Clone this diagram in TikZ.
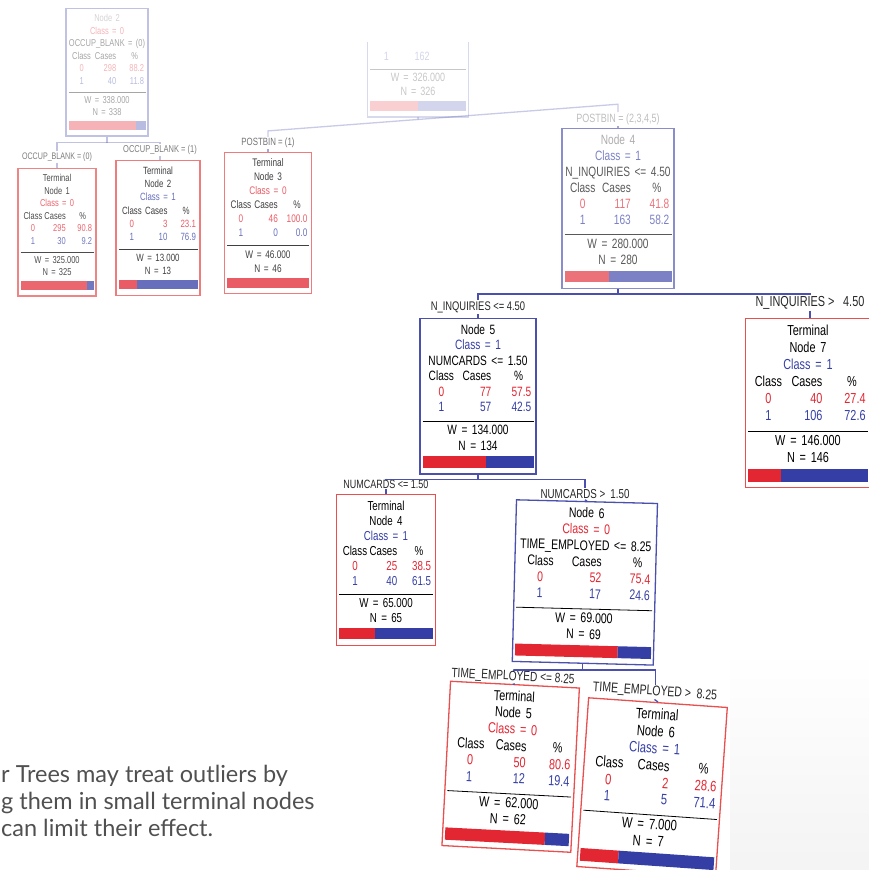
\documentclass[tikz,border=0pt]{standalone}
\usepackage{fontspec}
\usetikzlibrary{calc}
\newfontfamily\treefont[FakeStretch=0.75]{Liberation Sans}
\newfontfamily\notefont{Lato}
\definecolor{clsred}{RGB}{226,38,50}
\definecolor{clsblue}{RGB}{52,62,165}
\definecolor{redline}{RGB}{232,80,80}
\definecolor{blueline}{RGB}{75,80,175}
\definecolor{notegray}{RGB}{80,80,80}
% one row of the class table
\newcommand{\tabrow}[3]{\makebox[0.3\linewidth][c]{#1}\makebox[0.3\linewidth][r]{#2}\makebox[0.36\linewidth][r]{#3}}
\newcommand{\classbar}[1]{%
 {\color{clsred}\rule{#1\linewidth}{0.85em}}%
 {\color{clsblue}\rule{\dimexpr\linewidth-#1\linewidth\relax}{0.85em}}}
\newcommand{\boxtext}[8]{%
 #1\\
 \tabrow{Class}{Cases}{\%\hspace{0.6em}}\\
 \color{clsred}\tabrow{0}{#2}{#3}\\
 \color{clsblue}\tabrow{1}{#4}{#5}\\[-0.4em]
 \color{black}\rule{\linewidth}{0.8pt}\\[-0.2em]
 W = #6\\ N = #7\\[0.15em]
 \classbar{#8}}
\begin{document}
\begin{tikzpicture}[x=1pt,y=-1pt,
  treebox/.style={draw,line width=1.3pt,inner xsep=2.5pt,inner ysep=6pt,align=center,anchor=north},
  splitbox/.style={treebox,draw=blueline},
  termbox/.style={treebox,draw=redline},
  fs/.style 2 args={font=\treefont\fontsize{#1}{#2}\selectfont},
  cutlabel/.style={font=\treefont\fontsize{#1}{#1}\selectfont,inner sep=1pt,text=black!85},
  link/.style={draw=blueline,line width=1.3pt},
  note/.style={font=\notefont\fontsize{23.5}{27}\selectfont,text=notegray,inner sep=0pt,anchor=base west}]
\useasboundingbox (0,0) rectangle (869,870);
\shade[top color=white,bottom color=gray!9] (730,650) rectangle (869,870);
% faded upper part of the tree
\node[splitbox,fs={10}{12.5},text width=77pt,opacity=0.35] (n2) at (107,8)
 {\boxtext{\textcolor{gray}{Node 2}\\ \textcolor{clsred}{Class = 0}\\ \mbox{OCCUP\_BLANK = (0)}}{298}{88.2}{40}{11.8}{338.000}{338}{0.882}};
\node[fs={12}{14},text width=96pt,align=center,inner xsep=2.5pt,inner ysep=6pt,anchor=south,opacity=0.22] (n3) at (418,117)
 {\color{clsblue}\tabrow{1}{162}{}\\[-0.4em] \color{black}\rule{\linewidth}{0.8pt}\\[-0.2em] W = 326.000\\ N = 326\\[0.15em] \classbar{0.5}};
\draw[link,opacity=0.22] ($(n3.north west)+(0,-4)$) -- (n3.south west) -- (n3.south east) -- ($(n3.north east)+(0,-4)$);
\node[termbox,fs={10}{12.5},text width=73pt,opacity=0.7] (t1) at (57,168)
 {\boxtext{Terminal\\ Node 1\\ \textcolor{clsred}{Class = 0}}{295}{90.8}{30}{9.2}{325.000}{325}{0.908}};
\node[termbox,fs={10.5}{13.3},text width=79pt,opacity=0.75] (t2) at (158,160)
 {\boxtext{Terminal\\ Node 2\\ \textcolor{clsblue}{Class = 1}}{3}{23.1}{10}{76.9}{13.000}{13}{0.231}};
\node[termbox,fs={11}{14},text width=82pt,opacity=0.75] (t3) at (268,152)
 {\boxtext{Terminal\\ Node 3\\ \textcolor{clsred}{Class = 0}}{46}{100.0}{0}{0.0}{46.000}{46}{1.0}};
\node[splitbox,fs={13.5}{16},text width=107pt,opacity=0.65] (n4) at (618,128)
 {\boxtext{\textcolor{gray}{Node 4}\\ \textcolor{clsblue}{Class = 1}\\ \mbox{N\_INQUIRIES <= 4.50}}{117}{41.8}{163}{58.2}{280.000}{280}{0.418}};
% lower part
\node[splitbox,fs={13.5}{15.5},text width=111pt] (n5) at (478,318)
 {\boxtext{Node 5\\ \textcolor{clsblue}{Class = 1}\\ \mbox{NUMCARDS <= 1.50}}{77}{57.5}{57}{42.5}{134.000}{134}{0.575}};
\node[termbox,fs={14.5}{17},text width=120pt] (t7) at (808,318)
 {\boxtext{Terminal\\ Node 7\\ \textcolor{clsblue}{Class = 1}}{40}{27.4}{106}{72.6}{146.000}{146}{0.274}};
\node[termbox,fs={13}{15},text width=94pt] (t4) at (386,494)
 {\boxtext{Terminal\\ Node 4\\ \textcolor{clsblue}{Class = 1}}{25}{38.5}{40}{61.5}{65.000}{65}{0.385}};
\node[splitbox,fs={14}{16.2},text width=136pt,rotate=-1.5] (n6) at (587,501)
 {\boxtext{Node 6\\ \textcolor{clsred}{Class = 0}\\ \mbox{TIME\_EMPLOYED <= 8.25}}{52}{75.4}{17}{24.6}{69.000}{69}{0.754}};
\node[termbox,fs={14.5}{16.5},text width=124pt,rotate=-3] (t5) at (515,684)
 {\boxtext{Terminal\\ Node 5\\ \textcolor{clsred}{Class = 0}}{50}{80.6}{12}{19.4}{62.000}{62}{0.806}};
\node[termbox,fs={15}{17},text width=134pt,rotate=-4] (t6) at (658,702)
 {\boxtext{Terminal\\ Node 6\\ \textcolor{clsblue}{Class = 1}}{2}{28.6}{5}{71.4}{7.000}{7}{0.286}};
% split labels
\node[cutlabel=9.5,opacity=0.6] (ob0) at (57,157) {OCCUP\_BLANK = (0)};
\node[cutlabel=10,opacity=0.6] (ob1) at (160,150) {OCCUP\_BLANK = (1)};
\node[cutlabel=10.5,opacity=0.65] (p1) at (268,143) {POSTBIN = (1)};
\node[cutlabel=12,opacity=0.3] (p2) at (618,119) {POSTBIN = (2,3,4,5)};
\node[cutlabel=12.5] (ni0) at (478,307) {N\_INQUIRIES <= 4.50};
\node[cutlabel=14.5] (ni1) at (810,303) {N\_INQUIRIES >\hspace{0.6em}4.50};
\node[cutlabel=12] (nc0) at (386,484) {NUMCARDS <= 1.50};
\node[cutlabel=13] (nc1) at (585,494) {NUMCARDS >\hspace{0.4em}1.50};
\node[cutlabel=13.5,rotate=-3] (te0) at (513,677) {TIME\_EMPLOYED <= 8.25};
\node[cutlabel=14,rotate=-4] (te1) at (655,692) {TIME\_EMPLOYED >\hspace{0.4em}8.25};
% connectors
\draw[link,opacity=0.35] (n2.south) -- ++(0,6) coordinate (b2);
\draw[link,opacity=0.35] (ob0.north) |- (b2) -| (ob1.north);
\draw[link,opacity=0.35] (ob0.south) -- (ob0.south |- t1.north);
\draw[link,opacity=0.35] (ob1.south) -- (ob1.south |- t2.north);
\draw[link,opacity=0.3] (p1.north) -- ++(0,-6) coordinate (pb1)
 -- ($(p2.north)+(0,-8)$) coordinate (pb2) -- (p2.north);
\draw[link,opacity=0.3] (n3.south) -- ($(pb1)!(n3.south)!(pb2)$);
\draw[link,opacity=0.5] (p1.south) -- (p1.south |- t3.north);
\draw[link,opacity=0.5] (p2.south) -- (n4.north);
\draw[link] (n4.south) -- ++(0,5) coordinate (b4);
\draw[link] (ni0.north) |- (b4) -| (ni1.north);
\draw[link] (ni0.south) -- (ni0.south |- n5.north);
\draw[link] (ni1.south) -- (ni1.south |- t7.north);
\draw[link] (n5.south) -- ++(0,5) coordinate (b5);
\draw[link] (nc0.north) |- (b5) -| (nc1.north);
\draw[link] (nc0.south) -- (nc0.south |- t4.north);
\draw[link] (nc1.south) -- (n6.north);
\draw[link] (n6.south) -- ++(0,6) coordinate (b6);
\draw[link] (te0.north) |- (b6) -| (te1.north);
\draw[link] (te0.south) -- (t5.north);
\draw[link] (te1.south) -- (t6.north);
% caption at the lower left
\node[note] (note1) at (1,782) {r Trees may treat outliers by};
\node[note] (note2) at (1,809) {g them in small terminal nodes};
\node[note] (note3) at (1,836) {can limit their effect.};
\end{tikzpicture}
\end{document}
